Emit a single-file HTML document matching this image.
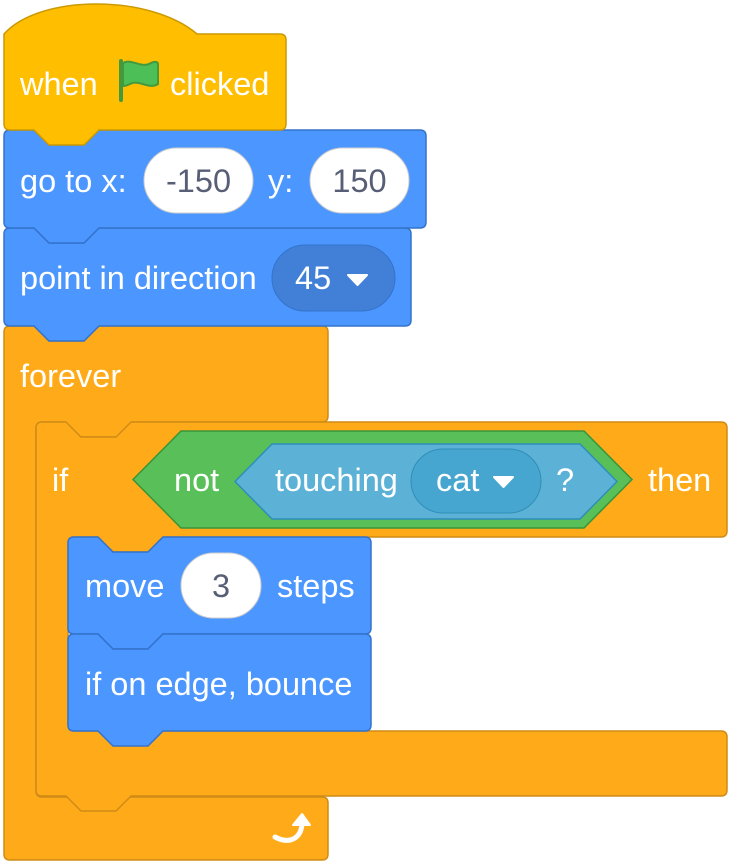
<!DOCTYPE html>
<html><head><meta charset="utf-8"><style>
html,body{margin:0;padding:0;background:#fff;width:729px;height:862px;overflow:hidden}
svg{display:block}
text{font-family:"Liberation Sans",Arial,sans-serif;font-size:32.5px;fill:#fff}
.d{fill:#575E75;text-anchor:middle}
</style></head><body>
<svg width="729" height="862" viewBox="0 0 729 862">
<path d="M4,332 Q4,326 10,326 H34 L49,341 H84 L99,326 H322 Q328,326 328,332 V416 Q328,422 322,422 H131 L116,437 H81 L66,422 H42 Q36,422 36,428 V791 Q36,797 42,797 H322 Q328,797 328,803 V854 Q328,860 322,860 H10 Q4,860 4,854 Z" fill="#FFAB19" stroke="#CF8B17" stroke-width="1.5"/>
<path d="M36,428 Q36,422 42,422 H66 L81,437 H116 L131,422 H721 Q727,422 727,428 V531 Q727,537 721,537 H163 L148,552 H113 L98,537 H74 Q68,537 68,543 V725 Q68,731 74,731 H721 Q727,731 727,737 V790 Q727,796 721,796 H131 L116,811 H81 L66,796 H42 Q36,796 36,790 Z" fill="#FFAB19" stroke="#CF8B17" stroke-width="1.5"/>
<path d="M66,421 L81,436 H116 L131,421 Z" fill="#FFAB19"/>
<path d="M68,543 Q68,537 74,537 H98 L113,552 H148 L163,537 H365 Q371,537 371,543 V628 Q371,634 365,634 H163 L148,649 H113 L98,634 H74 Q68,634 68,628 Z" fill="#4C97FF" stroke="#3373CC" stroke-width="1.5"/>
<path d="M68,640 Q68,634 74,634 H98 L113,649 H148 L163,634 H365 Q371,634 371,640 V725 Q371,731 365,731 H163 L148,746 H113 L98,731 H74 Q68,731 68,725 Z" fill="#4C97FF" stroke="#3373CC" stroke-width="1.5"/>
<path d="M4,234 Q4,228 10,228 H34 L49,243 H84 L99,228 H405 Q411,228 411,234 V320 Q411,326 405,326 H99 L84,341 H49 L34,326 H10 Q4,326 4,320 Z" fill="#4C97FF" stroke="#3373CC" stroke-width="1.5"/>
<path d="M4,136 Q4,130 10,130 H34 L49,145 H84 L99,130 H420 Q426,130 426,136 V222 Q426,228 420,228 H99 L84,243 H49 L34,228 H10 Q4,228 4,222 Z" fill="#4C97FF" stroke="#3373CC" stroke-width="1.5"/>
<path d="M4,34 C40,-6 150,-6 197,34 H280 Q286,34 286,40 V124 Q286,130 280,130 H99 L84,145 H49 L34,130 H10 Q4,130 4,124 Z" fill="#FFBF00" stroke="#CC9900" stroke-width="1.5"/>

<text x="20" y="95">when</text>
<g transform="translate(118,59)">
<path d="M3,2 V41" stroke="#45993D" stroke-width="4" stroke-linecap="round"/>
<path d="M5,4 C14,-1 23,10 33,4 C37,2 40,3 40,5 V25 C31,31 21,20 12,25 C8,27 5,27 5,27 Z" fill="#4CBF56" stroke="#45993D" stroke-width="2"/>
</g>
<text x="170" y="95">clicked</text>

<text x="20" y="192">go to x:</text>
<rect x="144" y="148" width="109" height="65" rx="32.5" fill="#fff" stroke="#ccc"/>
<text class="d" x="198.5" y="192">-150</text>
<text x="268" y="192">y:</text>
<rect x="310" y="148" width="99" height="65" rx="32.5" fill="#fff" stroke="#ccc"/>
<text class="d" x="359.5" y="192">150</text>

<text x="20" y="289">point in direction</text>
<rect x="272" y="245" width="123" height="66" rx="33" fill="#4280D7" stroke="#3373CC"/>
<text x="295" y="289">45</text>
<path d="M348,275 H367 L357.5,285 Z" fill="#fff" stroke="#fff" stroke-width="2" stroke-linejoin="round"/>

<text x="20" y="387">forever</text>
<text x="52" y="491">if</text>
<polygon points="133,479.5 181,431 584,431 632,479.5 584,528 181,528" fill="#59C059" stroke="#389438" stroke-width="1.5"/>
<text x="174" y="491">not</text>
<polygon points="235,481.5 272,444 580,444 617,481.5 580,519 272,519" fill="#5CB1D6" stroke="#2E8EB8" stroke-width="1.5"/>
<text x="275" y="491">touching</text>
<rect x="411" y="449" width="130" height="64" rx="32" fill="#47A6D0" stroke="#2E8EB8"/>
<text x="436" y="491">cat</text>
<path d="M494,477 H513 L503.5,487 Z" fill="#fff" stroke="#fff" stroke-width="2" stroke-linejoin="round"/>
<text x="556" y="491">?</text>
<text x="648" y="491">then</text>

<text x="85" y="597">move</text>
<rect x="181" y="553" width="80" height="65" rx="32.5" fill="#fff" stroke="#ccc"/>
<text class="d" x="221" y="597">3</text>
<text x="277" y="597">steps</text>
<text x="85" y="695">if on edge, bounce</text>

<path d="M275,837 C290,845 302,838 302,822" fill="none" stroke="#fff" stroke-width="5" stroke-linecap="round"/>
<path d="M293,825 L302,814 L310,825 Z" fill="#fff" stroke="#fff" stroke-width="2" stroke-linejoin="round"/>
</svg>
</body></html>
